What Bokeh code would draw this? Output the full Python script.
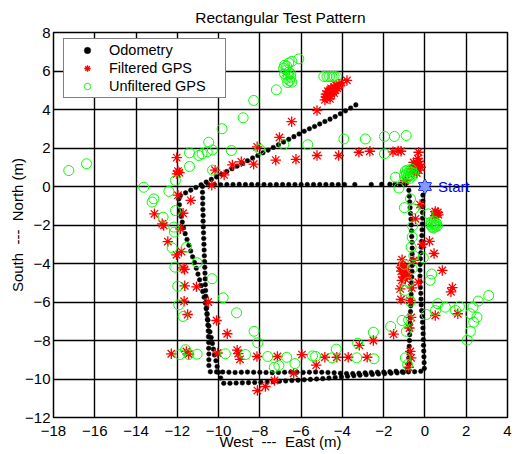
from bokeh.plotting import figure
from bokeh.models import Range1d, FixedTicker, Legend, LegendItem
from bokeh.embed import file_html
from bokeh.resources import INLINE
from bokeh.core.properties import value

FONT = "Liberation Sans"

title_text = "Rectangular Test Pattern"
x_label = "West\u00a0\u00a0---\u00a0\u00a0East (m)"
y_label = "South\u00a0\u00a0---\u00a0\u00a0North (m)"
x_ticks = [-18, -16, -14, -12, -10, -8, -6, -4, -2, 0, 2, 4]
y_ticks = [-12, -10, -8, -6, -4, -2, 0, 2, 4, 6, 8]
start_x, start_y = 0.0, 0.0

# ---------------- Odometry (black dots), drawn segment by segment ----------------
# loop 1: east side going south
odo_a_x = [-0.1, -0.1, -0.11, -0.12, -0.12, -0.13, -0.14, -0.15, -0.16, -0.18, -0.2, -0.22, -0.23, -0.24, -0.24, -0.23,
           -0.22, -0.2, -0.19, -0.18, -0.16, -0.14, -0.12, -0.1, -0.09, -0.08, -0.07, -0.06, -0.05, -0.04, -0.03]
odo_a_y = [-0.45, -0.75, -1.05, -1.35, -1.65, -1.95, -2.25, -2.55, -2.85, -3.15, -3.45, -3.75, -4.05, -4.35, -4.65, -4.95,
           -5.25, -5.55, -5.85, -6.15, -6.45, -6.75, -7.05, -7.35, -7.65, -7.95, -8.25, -8.55, -8.85, -9.15, -9.45]
# loop 1: south side going west
odo_b_x = [-0.2, -0.5, -0.8, -1.1, -1.4, -1.7, -2.0, -2.3, -2.6, -2.9, -3.2, -3.5, -3.8, -4.1, -4.4, -4.7, -5.0, -5.3,
           -5.6, -5.9, -6.2, -6.5, -6.8, -7.1, -7.4, -7.7, -8.0, -8.3, -8.6, -8.9, -9.2, -9.5, -9.8, -10.1, -10.4]
odo_b_y = [-9.6, -9.62, -9.63, -9.62, -9.6, -9.62, -9.64, -9.65, -9.66, -9.68, -9.7, -9.72, -9.72, -9.7, -9.68, -9.66,
           -9.65, -9.64, -9.65, -9.66, -9.65, -9.64, -9.65, -9.66, -9.67, -9.66, -9.65, -9.65, -9.64, -9.65, -9.66,
           -9.65, -9.64, -9.63, -9.62]
# loop 1: west side going north
odo_c_x = [-10.47, -10.47, -10.47, -10.48, -10.48, -10.49, -10.5, -10.52, -10.54, -10.56, -10.58, -10.6, -10.62, -10.63,
           -10.64, -10.65, -10.66, -10.67, -10.68, -10.69, -10.7, -10.71, -10.72, -10.73, -10.74, -10.75, -10.75, -10.76,
           -10.77, -10.77, -10.78, -10.78]
odo_c_y = [-9.3, -9.0, -8.7, -8.4, -8.1, -7.8, -7.5, -7.2, -6.9, -6.6, -6.3, -6.0, -5.7, -5.4, -5.1, -4.8, -4.5, -4.2,
           -3.9, -3.6, -3.3, -3.0, -2.7, -2.4, -2.1, -1.8, -1.5, -1.2, -0.9, -0.6, -0.3, 0.0]
# loop 1: north side going east
odo_d_x = [-10.5, -10.2, -9.9, -9.6, -9.3, -9.0, -8.7, -8.4, -8.1, -7.8, -7.5, -7.2, -6.9, -6.6, -6.3, -6.0, -5.7, -5.4,
           -5.1, -4.8, -4.5, -4.2, -3.9, -3.4, -2.6, -2.1, -1.7, -1.45, -1.2, -0.95]
odo_d_y = [0.1, 0.1, 0.09, 0.1, 0.1, 0.11, 0.1, 0.1, 0.1, 0.1, 0.09, 0.1, 0.1, 0.1, 0.1, 0.1, 0.1, 0.1, 0.1, 0.1,
           0.1, 0.1, 0.1, 0.1, 0.1, 0.11, 0.12, 0.12, 0.12, 0.12]
# loop 2: east side going south
odo_e_x = [-0.78, -0.76, -0.74, -0.72, -0.7, -0.68, -0.66, -0.65, -0.64, -0.63, -0.62, -0.62, -0.62, -0.62, -0.63, -0.64,
           -0.65, -0.66, -0.67, -0.68, -0.69, -0.7, -0.71, -0.72, -0.73, -0.74, -0.75, -0.76, -0.77, -0.78, -0.78]
odo_e_y = [-0.2, -0.5, -0.8, -1.1, -1.4, -1.7, -2.0, -2.3, -2.6, -2.9, -3.2, -3.5, -3.8, -4.1, -4.4, -4.7, -5.0, -5.3,
           -5.6, -5.9, -6.2, -6.5, -6.8, -7.1, -7.4, -7.7, -8.0, -8.3, -8.6, -8.9, -9.2]
# loop 2: south side going west (drifting)
odo_f_x = [-0.85, -1.05, -1.35, -1.65, -1.95, -2.25, -2.55, -2.85, -3.15, -3.45, -3.75, -4.05, -4.35, -4.65, -4.95,
           -5.25, -5.55, -5.85, -6.15, -6.45, -6.75, -7.05, -7.35, -7.65, -7.95, -8.25, -8.55, -8.85, -9.15, -9.45, -9.75]
odo_f_y = [-9.5, -9.66, -9.68, -9.7, -9.72, -9.74, -9.76, -9.78, -9.8, -9.83, -9.86, -9.9, -9.92, -9.95, -9.98, -10.0,
           -10.02, -10.04, -10.06, -10.08, -10.1, -10.12, -10.14, -10.16, -10.17, -10.18, -10.19, -10.2, -10.21, -10.22,
           -10.22]
# loop 2: west side going north
odo_g_x = [-9.9, -10.0, -10.07, -10.13, -10.2, -10.25, -10.3, -10.36, -10.42, -10.47, -10.52, -10.56, -10.6, -10.64,
           -10.7, -10.77, -10.84, -10.92, -11.0, -11.08, -11.17, -11.26, -11.35, -11.44, -11.53, -11.62, -11.7, -11.76,
           -11.82, -11.87, -11.9, -11.93]
odo_g_y = [-9.95, -9.65, -9.35, -9.05, -8.75, -8.45, -8.15, -7.85, -7.55, -7.25, -6.95, -6.65, -6.35, -6.05, -5.75,
           -5.45, -5.15, -4.85, -4.55, -4.25, -3.95, -3.65, -3.35, -3.05, -2.75, -2.45, -2.15, -1.85, -1.55, -1.25,
           -0.95, -0.65]
# loop 2: north side, rotated by drift
odo_h_x = [-11.85, -11.6, -11.35, -11.1, -10.85, -10.6, -10.35, -10.1, -9.85, -9.6, -9.35, -9.1, -8.85, -8.6, -8.35,
           -8.1, -7.85, -7.6, -7.35, -7.1, -6.85, -6.6, -6.35, -6.1, -5.85, -5.6, -5.35, -5.1, -4.85, -4.6, -4.35,
           -4.1, -3.85, -3.6, -3.35]
odo_h_y = [-0.47, -0.33, -0.19, -0.05, 0.09, 0.23, 0.37, 0.5, 0.64, 0.78, 0.92, 1.06, 1.2, 1.34, 1.48, 1.61, 1.75,
           1.89, 2.03, 2.17, 2.31, 2.45, 2.59, 2.73, 2.87, 3.0, 3.12, 3.25, 3.38, 3.5, 3.63, 3.78, 3.93, 4.08, 4.24]

odo_x = odo_a_x + odo_b_x + odo_c_x + odo_d_x + odo_e_x + odo_f_x + odo_g_x + odo_h_x
odo_y = odo_a_y + odo_b_y + odo_c_y + odo_d_y + odo_e_y + odo_f_y + odo_g_y + odo_h_y

# ---------------- Filtered GPS (red asterisks) ----------------
filt_pts = [
    (-12.03, 1.5), (-11.97, 0.8), (-11.9, 0.72), (-12.02, 0.66), (-10.33, 0.07), (-10.17, 0.85), (-9.73, 0.6),
    (-9.33, 1.12), (-8.9, 1.28), (-8.3, 1.16), (-8.13, 2.06), (-11.97, -0.45), (-11.35, -0.72),
    (-7.23, 1.37), (-6.25, 1.41), (-5.23, 1.61), (-4.18, 1.61), (-3.2, 1.78), (-2.67, 1.83), (-1.55, 1.8),
    (-1.3, 1.85), (-1.16, 1.83), (-0.31, 1.78),
    (-7.05, 2.55), (-6.46, 3.37), (-5.23, 3.95), (-3.78, 5.51), (-4.05, 5.4),
    (-4.85, 4.5), (-4.75, 4.6), (-4.7, 4.75), (-4.6, 4.7), (-4.55, 4.85), (-4.65, 4.9), (-4.45, 4.95), (-4.5, 5.05),
    (-4.35, 5.0), (-4.4, 5.15), (-4.25, 5.1), (-4.3, 5.25), (-4.15, 5.3), (-4.6, 4.55), (-4.8, 4.65), (-4.4, 4.85),
    (-4.2, 5.2), (-4.7, 4.95), (-4.55, 5.1), (-4.8, 4.8), (-4.6, 5.0),
    (-0.35, 1.45), (-0.3, 1.3), (-0.4, 1.2), (-0.25, 1.15), (-0.5, 1.1), (-0.35, 1.0), (-0.45, 0.95), (-0.6, 0.9),
    (-0.3, 0.85), (-0.5, 0.8), (-0.4, 0.7), (-0.65, 0.75), (-0.55, 1.25), (-0.2, 1.0), (-0.95, 0.3),
    (-0.24, -0.94), (0.5, -1.3), (0.55, -1.42), (0.62, -1.35), (0.65, -1.47), (0.5, -1.52), (-0.46, -1.68),
    (0.22, -2.85), (-0.12, -3.0), (0.44, -3.48), (-1.11, -3.8), (-0.54, -3.84), (-1.16, -4.19), (-0.96, -4.45),
    (-0.88, -4.68), (-1.12, -4.88), (0.84, -4.36), (-0.32, -4.97), (-1.2, -5.32), (1.33, -5.25), (1.26, -5.47),
    (-0.64, -5.27), (-1.16, -5.87), (-0.72, -5.92), (0.5, -6.7), (1.59, -6.61), (-0.67, -6.8), (-0.75, -7.35),
    (-1.52, -7.67), (-0.71, -8.57), (-0.67, -8.9), (-0.79, -9.39),
    (-1.1, -4.1), (-1.0, -4.2), (-0.9, -4.3), (-1.15, -4.4), (-1.0, -4.55), (-0.85, -4.6), (-1.05, -4.7),
    (-0.95, -4.8), (-1.1, -4.25),
    (-2.5, -8.0), (-3.18, -8.25), (-2.8, -8.87), (-3.72, -8.87), (-4.27, -8.87), (-4.85, -8.87), (-5.27, -9.28),
    (-5.96, -8.73), (-6.36, -9.7), (-7.15, -8.83), (-7.73, -10.39), (-7.29, -10.08), (-8.12, -10.6), (-8.14, -8.83),
    (-8.96, -8.98), (-9.1, -8.5), (-9.05, -8.68), (-10.05, -8.65), (-9.58, -7.65), (-10.1, -6.96),
    (-13.11, -1.42), (-12.73, -1.94), (-12.66, -2.02), (-11.72, -1.39), (-11.85, -2.2), (-12.46, -2.86),
    (-11.8, -3.38), (-12.04, -3.55), (-11.72, -4.23), (-11.65, -4.31), (-11.64, -5.16), (-11.07, -5.21),
    (-11.67, -5.96), (-10.5, -6.0), (-11.5, -6.65), (-12.29, -8.69), (-11.56, -8.57), (-11.45, -8.7),
]
filt_x = [pt[0] for pt in filt_pts]
filt_y = [pt[1] for pt in filt_pts]

# ---------------- Unfiltered GPS (green circles) ----------------
raw_pts = [
    (-17.26, 0.83), (-16.4, 1.18), (-13.63, -0.04), (-13.14, -0.64), (-13.22, -0.81), (-12.41, -0.25), (-12.09, 0.31),
    (-11.41, 1.04), (-11.41, 1.75), (-10.96, 1.61), (-10.8, 1.7), (-10.55, 1.8), (-10.48, 2.3), (-10.3, 1.9),
    (-10.29, 0.85), (-9.83, 3.0), (-9.38, 1.87), (-8.81, 3.57), (-8.3, 4.47), (-8.0, 1.93), (-7.2, 5.02),
    (-6.11, 6.63), (-6.45, 6.5), (-6.6, 6.42), (-6.8, 6.3), (-6.85, 6.15), (-6.72, 6.05), (-6.6, 5.95), (-6.8, 5.85),
    (-6.62, 5.78), (-6.5, 5.68), (-6.7, 5.62), (-6.55, 5.5), (-6.45, 5.42), (-6.65, 5.4), (-6.5, 5.85), (-6.7, 6.25),
    (-4.9, 5.72), (-4.75, 5.7), (-4.62, 5.72), (-4.5, 5.7), (-4.4, 5.72), (-4.28, 5.7),
    (-6.84, 2.18), (-5.68, 2.17), (-3.93, 2.47), (-2.89, 2.47), (-1.96, 2.6), (-1.48, 2.6), (-0.91, 2.65),
    (-1.96, 1.7), (-1.43, 0.48), (-1.26, -0.08),
    (-0.95, 0.8), (-0.85, 0.85), (-0.75, 0.8), (-0.65, 0.75), (-0.9, 0.65), (-0.8, 0.6), (-0.7, 0.62), (-0.6, 0.55),
    (-0.85, 0.45), (-0.75, 0.42), (-1.0, 0.55), (-0.65, 0.9), (-0.55, 0.7),
    (-0.7, -0.64), (-1.0, -1.1), (-0.54, -1.16), (0.15, -1.42),
    (0.3, -1.85), (0.45, -1.8), (0.55, -1.9), (0.6, -2.05), (0.5, -2.1), (0.35, -2.1), (0.28, -2.0), (0.42, -1.95),
    (0.52, -2.0), (0.4, -2.15),
    (-0.6, -2.05), (-0.62, -2.63), (-0.67, -3.15), (-0.08, -3.7), (-0.54, -3.6), (-1.0, -4.05), (-0.62, -4.27),
    (-0.8, -4.97), (-0.96, -5.4), (-0.71, -5.97), (0.33, -4.55), (0.25, -4.87), (0.62, -6.09), (0.51, -6.44),
    (0.99, -6.27), (1.67, -6.23), (1.48, -6.44), (0.07, -6.65), (-1.11, -6.96), (-0.79, -6.93), (-0.9, -7.52),
    (-1.66, -7.27), (-0.95, -8.9), (-0.84, -9.25),
    (3.09, -5.66), (2.58, -5.95), (2.33, -6.27), (2.52, -6.79), (2.2, -6.61), (2.36, -7.05), (2.2, -7.53),
    (2.05, -7.98),
    (-2.5, -7.57), (-2.47, -8.95), (-3.26, -8.14), (-3.31, -8.9), (-4.3, -8.45), (-4.5, -8.9), (-5.45, -8.8),
    (-5.3, -8.83), (-6.3, -9.2), (-6.7, -8.87), (-7.08, -9.3), (-7.3, -9.39), (-7.62, -8.83), (-8.1, -8.12),
    (-8.28, -7.52), (-8.7, -8.73), (-9.67, -8.69), (-11.04, -8.71), (-11.44, -8.73), (-11.88, -8.73), (-11.6, -8.48),
    (-9.13, -6.56), (-9.78, -5.78), (-10.31, -4.79), (-11.04, -3.96), (-11.56, -3.15), (-12.25, -3.19),
    (-12.12, -4.19), (-11.98, -5.18), (-11.93, -6.15), (-11.72, -6.75), (-12.69, -1.59), (-12.09, -1.25),
    (-12.17, -2.11), (-12.14, -2.37),
]
raw_x = [pt[0] for pt in raw_pts]
raw_y = [pt[1] for pt in raw_pts]

# ---------------- Figure ----------------
p = figure(width=518, height=454, output_backend="svg", toolbar_location=None,
           x_range=Range1d(-18, 4), y_range=Range1d(-12, 8),
           min_border_left=53, min_border_right=11, min_border_top=32, min_border_bottom=37,
           title=title_text)
p.title.align = "center"
p.title.vertical_align = "middle"
p.title.text_font = FONT
p.title.text_font_size = "15.5px"
p.title.text_font_style = "normal"
p.title.text_color = "black"
p.title.standoff = 12
p.background_fill_color = "white"
p.border_fill_color = "white"
p.outline_line_color = "black"
p.outline_line_width = 1.5

p.xaxis.ticker = FixedTicker(ticks=x_ticks)
p.yaxis.ticker = FixedTicker(ticks=y_ticks)
p.xgrid.ticker = FixedTicker(ticks=x_ticks)
p.ygrid.ticker = FixedTicker(ticks=y_ticks)
p.xaxis.axis_label = x_label
p.yaxis.axis_label = y_label
for ax in (p.xaxis[0], p.yaxis[0]):
    ax.major_tick_in = 0
    ax.major_tick_out = 0
    ax.minor_tick_line_color = None
    ax.axis_line_color = None
    ax.major_label_text_font = FONT
    ax.major_label_text_font_size = "15px"
    ax.major_label_text_color = "black"
    ax.axis_label_text_font = FONT
    ax.axis_label_text_font_size = "15px"
    ax.axis_label_text_font_style = "normal"
    ax.axis_label_text_color = "black"
p.xaxis.major_label_standoff = 8
p.xaxis.axis_label_standoff = -6
p.yaxis.major_label_standoff = 3
p.yaxis.axis_label_standoff = -4

p.grid.grid_line_color = "black"
p.grid.grid_line_width = 1.4
p.grid.grid_line_alpha = 1.0

r_odo = p.scatter(odo_x, odo_y, marker="circle", size=4.6, fill_color="black", line_color="black", line_width=0.5)
r_filt = p.scatter(filt_x, filt_y, marker="asterisk", size=10.5, line_color="#ff0000", line_width=1.3)
r_raw = p.scatter(raw_x, raw_y, marker="circle", size=10, fill_color=None, line_color="#00ff00", line_width=1)

# Start marker: six-pointed star from two triangles
star_fill = "#7f9cff"
star_line = "#0000ff"
p.scatter([start_x], [start_y], marker="triangle", size=13, fill_color=star_fill, line_color=star_line, line_width=1)
p.scatter([start_x], [start_y], marker="inverted_triangle", size=13, fill_color=star_fill, line_color=star_line, line_width=1)
p.scatter([start_x], [start_y], marker="triangle", size=12, fill_color=star_fill, line_color=None)
p.scatter([start_x], [start_y], marker="inverted_triangle", size=12, fill_color=star_fill, line_color=None)
p.text(x=[start_x], y=[start_y], text=["Start"], x_offset=13, text_color="#0000ff",
       text_font=value(FONT), text_font_size="15px", text_baseline="middle", text_align="left")

legend = Legend(items=[LegendItem(label="Odometry", renderers=[r_odo]),
                       LegendItem(label="Filtered GPS", renderers=[r_filt]),
                       LegendItem(label="Unfiltered GPS", renderers=[r_raw])],
                location=(10, 319), padding=3, spacing=2, margin=0,
                glyph_width=40, glyph_height=16, label_height=16, label_standoff=2, label_width=113,
                label_text_font=FONT, label_text_font_size="14.5px", label_text_color="black",
                border_line_color="black", border_line_width=1, background_fill_color="white",
                background_fill_alpha=1.0)
p.add_layout(legend)

open("out.html", "w").write(file_html(p, INLINE))
